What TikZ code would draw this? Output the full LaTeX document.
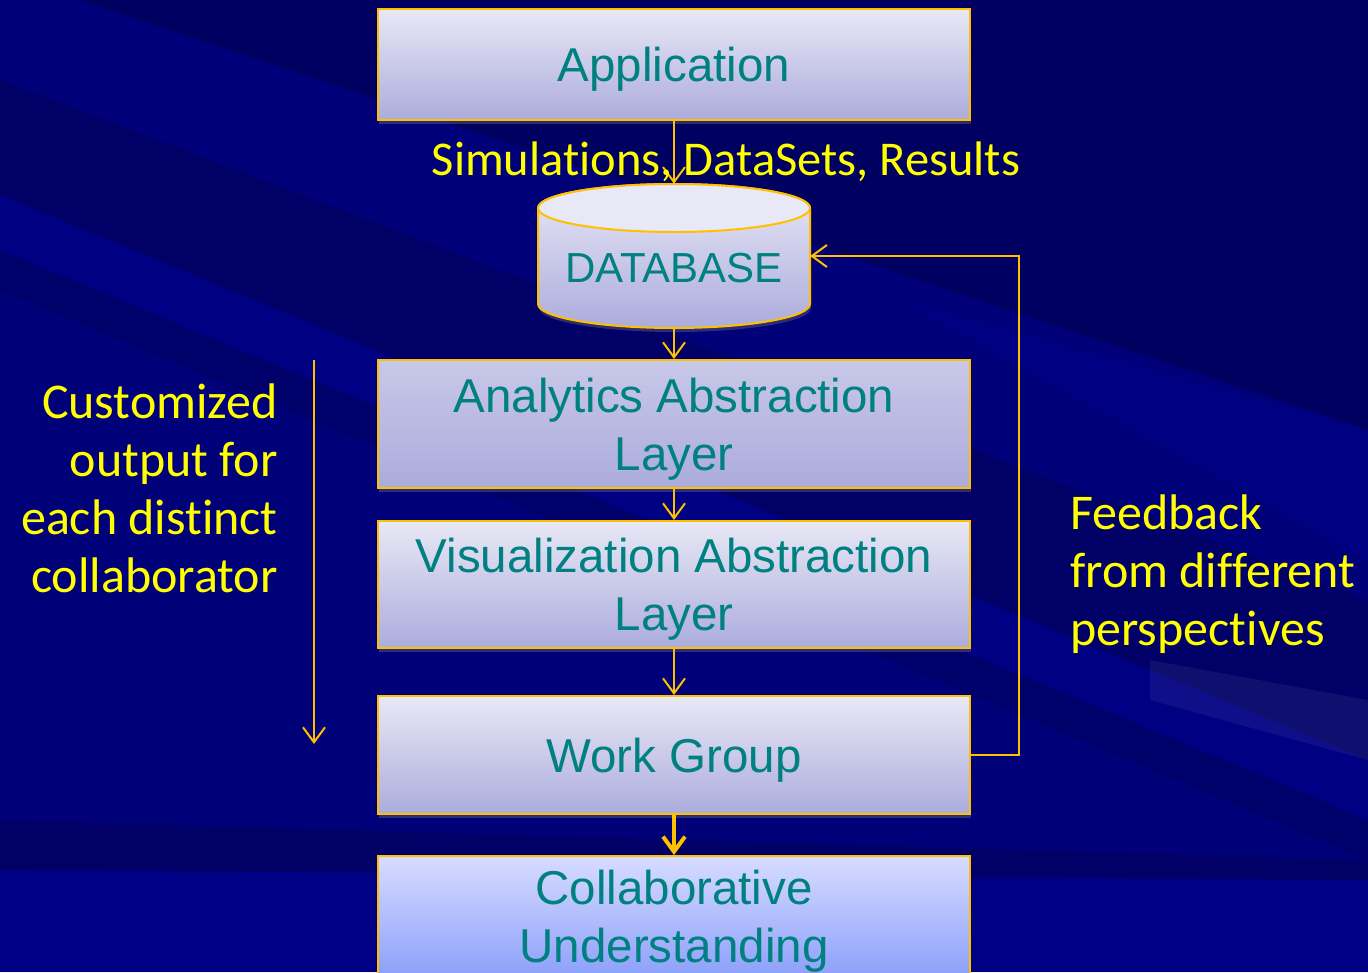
\documentclass[tikz,border=0pt]{standalone}
\usepackage{fontspec}
\setmainfont{Liberation Sans}
\newfontfamily\calfont[Ligatures={NoCommon,NoRare}]{Carlito}
\usetikzlibrary{arrows.meta,shadows}

\definecolor{bgnavy}{RGB}{0,0,120}
\definecolor{bgdark}{RGB}{0,0,70}
\definecolor{bglight}{RGB}{0,0,160}
\definecolor{gold}{RGB}{255,192,0}
\definecolor{boxtext}{RGB}{0,128,128}
\definecolor{ylw}{RGB}{255,255,0}
\definecolor{boxtop}{RGB}{232,232,246}
\definecolor{boxbot}{RGB}{172,172,221}
\definecolor{cutop}{RGB}{215,220,255}
\definecolor{cubot}{RGB}{140,160,250}

\tikzset{
  layerbox/.style={draw=gold, line width=2pt, top color=boxtop, bottom color=boxbot,
    minimum width=592, inner sep=0pt, align=center, text=boxtext, text depth=0pt,
    font=\fontsize{47.5}{58}\selectfont,
    drop shadow={opacity=0.35, shadow xshift=1pt, shadow yshift=-4pt}},
  flow/.style={draw=gold, line width=2pt, -{Straight Barb[length=15pt,width=22pt]}},
  ylwtext/.style={text=ylw, inner sep=0pt, font=\calfont\fontsize{50}{58}\selectfont}
}

\begin{document}
\begin{tikzpicture}[x=1pt, y=-1pt]
\useasboundingbox (0,0) rectangle (1368,972);
\begin{scope}
\clip (0,0) rectangle (1368,972);

% background with diagonal streaks
\fill[bgnavy] (0,0) rectangle (1368,972);
\fill[bgdark, opacity=.45] (80,0) -- (1368,0) -- (1368,430) -- cycle;
\fill[bgdark, opacity=.35] (0,80) -- (0,195) -- (1368,760) -- (1368,600) -- cycle;
\fill[bglight, opacity=.25] (0,195) -- (0,250) -- (1368,820) -- (1368,760) -- cycle;
\fill[bgdark, opacity=.25] (0,250) -- (0,290) -- (1368,860) -- (1368,820) -- cycle;
\fill[bglight, opacity=.25] (1368,430) -- (1368,560) -- (900,300) -- cycle;
\fill[bgdark, opacity=.35] (0,820) -- (1368,860) -- (1368,880) -- (0,870) -- cycle;
\fill[bglight, opacity=.35] (0,870) -- (1368,880) -- (1368,972) -- (0,972) -- cycle;
\fill[white, opacity=.06] (1150,660) -- (1368,700) -- (1368,760) -- (1150,700) -- cycle;

% layer boxes
\node[layerbox, minimum height=111] (app) at (674,64.5) {Application};
\node[layerbox, minimum height=128, top color={rgb,255:red,200;green,200;blue,232}] (ana) at (674,424) {Analytics Abstraction\\Layer};
\node[layerbox, minimum height=127] (vis) at (674,584.5) {Visualization Abstraction\\Layer};
\node[layerbox, minimum height=118] (wg) at (674,755) {Work Group};
\node[layerbox, minimum height=121, top color=cutop, bottom color=cubot] (cu) at (674,916.5) {Collaborative\\Understanding};

% database cylinder
\node[minimum width=272, minimum height=144, inner sep=0pt] (db) at (674,256) {};
\path[draw=gold, line width=2pt, top color=boxtop, bottom color=boxbot,
      drop shadow={opacity=0.35, shadow xshift=1pt, shadow yshift=-4pt}]
  (538,208) -- (538,304) arc[start angle=180, end angle=360, x radius=136pt, y radius=24pt]
  -- (810,208) arc[start angle=0, end angle=180, x radius=136pt, y radius=24pt] -- cycle;
\draw[gold, line width=2pt, fill=boxtop] (674,208) ellipse[x radius=136pt, y radius=24pt];
\node[text=boxtext, font=\fontsize{42}{48}\selectfont] (dbtxt) at (674,268) {DATABASE};

% connectors
\draw[flow] (app.south) -- (db.north);
\draw[flow] (db.south) -- (ana.north);
\draw[flow] (ana.south) -- (vis.north);
\draw[flow] (vis.south) -- (wg.north);
\draw[flow, line width=4pt] (wg.south) -- (cu.north);
\draw[flow] (wg.east) -- ++(48,0) |- (db.east);
\coordinate (lstart) at (314,360);
\coordinate (lend) at (314,744);
\draw[flow] (lstart) -- (lend);

% labels
\node[ylwtext, anchor=base, font=\calfont\fontsize{48.5}{58}\selectfont] (simtxt) at (726,175) {Simulations, DataSets, Results};
\node[ylwtext, align=right, anchor=east] (lefttxt) at (278,488) {Customized\\output for\\each distinct\\collaborator};
\node[ylwtext, align=left, anchor=west] (righttxt) at (1070,574) {Feedback\\from different\\perspectives};
\end{scope}
\end{tikzpicture}
\end{document}
